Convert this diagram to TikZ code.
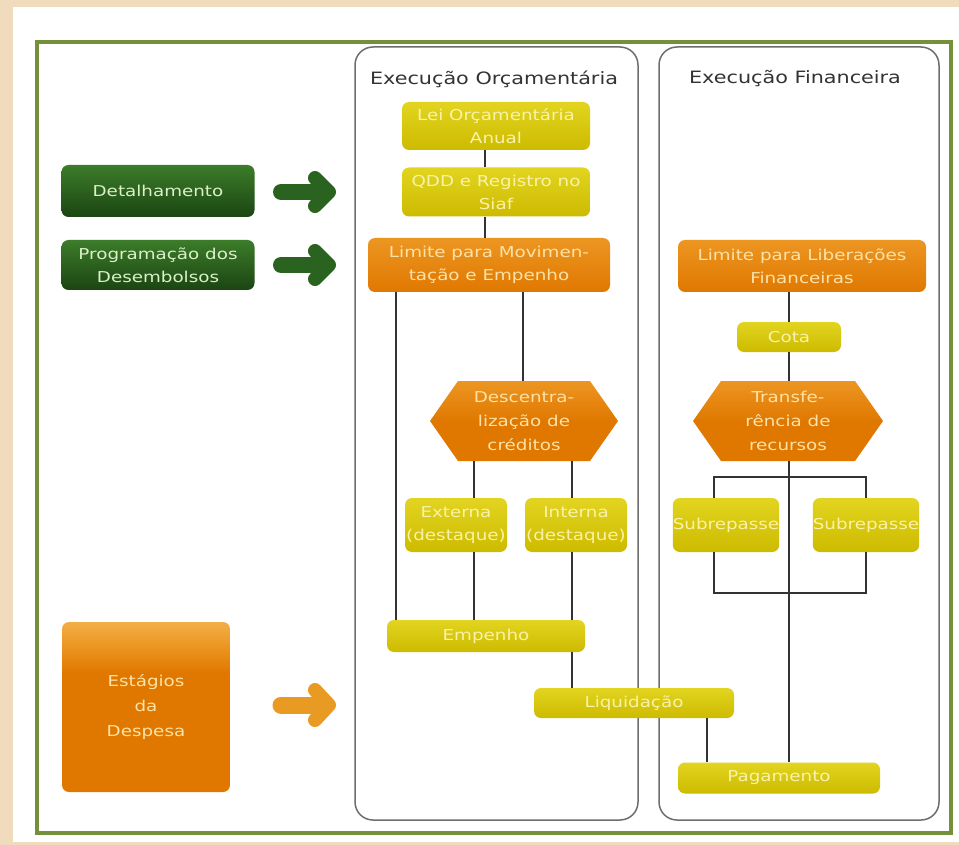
\documentclass[tikz,border=0pt]{standalone}
\usepackage{fontspec}
\setmainfont{DejaVu Sans}[FakeStretch=1.22]
\usetikzlibrary{shapes.symbols}
\definecolor{bgbeige}{HTML}{F0DCBC}
\definecolor{framec}{HTML}{74903A}
\definecolor{panelgray}{HTML}{6E6E6E}
\definecolor{ylw}{HTML}{CDBB00}
\definecolor{ylwtop}{HTML}{E2D420}
\definecolor{ylwtxt}{HTML}{FAF2A8}
\definecolor{org}{HTML}{E07800}
\definecolor{orgtop}{HTML}{EC9622}
\definecolor{orglight}{HTML}{F2AE48}
\definecolor{orgtxt}{HTML}{FCE2A8}
\definecolor{grn}{HTML}{1B4512}
\definecolor{grntop}{HTML}{3C7C2A}
\definecolor{grntxt}{HTML}{D9F0C8}
\definecolor{grnarrow}{HTML}{2A6320}
\definecolor{orgarrow}{HTML}{E99A22}
\definecolor{linec}{HTML}{333333}
\definecolor{titlec}{HTML}{333333}
\pgfdeclareverticalshading{estshade}{100bp}{color(0bp)=(org); color(25bp)=(org); color(60bp)=(org); color(68bp)=(orgtop); color(75bp)=(orglight); color(100bp)=(orglight)}
\begin{document}
\begin{tikzpicture}[x=1pt,y=-1pt,
  box/.style={rounded corners=7pt, inner sep=0pt, align=center, font=\fontsize{15}{23}\selectfont},
  ybox/.style={box, top color=ylwtop, bottom color=ylw, text=ylwtxt},
  obox/.style={box, top color=orgtop, bottom color=org, text=orgtxt},
  gbox/.style={box, top color=grntop, bottom color=grn, text=grntxt},
  hexa/.style={signal, signal to=east and west, signal pointer angle=110, top color=orgtop, bottom color=org, middle color=org, text=orgtxt, inner sep=0pt, align=center, font=\fontsize{15}{24}\selectfont},
  conn/.style={draw=linec, line width=2pt},
  panel/.style={draw=panelgray, line width=1.5pt, rounded corners=18pt, fill=white},
  ptitle/.style={text=titlec, font=\fontsize{17}{20}\selectfont},
  garrow/.style={draw=grnarrow, line cap=round, line join=round},
  oarrow/.style={draw=orgarrow, line cap=round, line join=round}
]
\useasboundingbox (0,0) rectangle (959,845);
\fill[bgbeige] (0,0) rectangle (959,845);
\fill[white] (13,7) rectangle (959,842);
\draw[framec, line width=4pt] (37,42) rectangle (951,833);

% panels
\draw[panel] (355,47) rectangle (638,820);
\draw[panel] (659,47) rectangle (939,820);
\node[ptitle] (t1) at (494,79) {Execução Orçamentária};
\node[ptitle] (t2) at (795,79) {Execução Financeira};

% column coordinates
\coordinate (xa) at (485,0);
\coordinate (xb) at (396,0);
\coordinate (xc) at (523,0);
\coordinate (xd) at (474,0);
\coordinate (xe) at (572,0);
\coordinate (xf) at (789,0);
\coordinate (xg) at (707,0);
\coordinate (xl) at (714,0);
\coordinate (xr) at (866,0);
\coordinate (ytop) at (0,477);
\coordinate (ybot) at (0,593);

% boxes
\node[ybox, minimum width=188pt, minimum height=48pt] (lei) at (496,126) {Lei Orçamentária\\Anual};
\node[ybox, minimum width=188pt, minimum height=49pt] (qdd) at (496,192) {QDD e Registro no\\Siaf};
\node[obox, minimum width=242pt, minimum height=54pt] (limmov) at (489,265) {Limite para Movimen-\\tação e Empenho};
\node[obox, minimum width=248pt, minimum height=52pt] (limlib) at (802,266) {Limite para Liberações\\Financeiras};
\node[ybox, minimum width=104pt, minimum height=30pt] (cota) at (789,337) {Cota};
\node[hexa, minimum width=188pt, minimum height=80pt] (desc) at (524,421) {Descentra-\\lização de\\créditos};
\node[hexa, minimum width=190pt, minimum height=80pt] (trans) at (788,421) {Transfe-\\rência de\\recursos};
\node[ybox, minimum width=102pt, minimum height=54pt] (ext) at (456,525) {Externa\\(destaque)};
\node[ybox, minimum width=102pt, minimum height=54pt] (int) at (576,525) {Interna\\(destaque)};
\node[ybox, minimum width=94pt, minimum height=54pt] (sub1) at (726,525) {Subrepasse};
\node[ybox, minimum width=102pt, minimum height=54pt] (sub2) at (866,525) {Subrepasse};
\node[ybox, minimum width=198pt, minimum height=32pt] (emp) at (486,636) {Empenho};
\node[ybox, minimum width=200pt, minimum height=30pt] (liq) at (634,703) {Liquidação};
\node[ybox, minimum width=202pt, minimum height=31pt] (pag) at (779,778) {Pagamento};
\node[gbox, minimum width=193pt, minimum height=52pt] (det) at (158,191) {Detalhamento};
\node[gbox, minimum width=193pt, minimum height=50pt] (prog) at (158,265) {Programação dos\\Desembolsos};
\node[box, shading=estshade, text=orgtxt, minimum width=168pt, minimum height=170pt, font=\fontsize{15}{25}\selectfont] (est) at (146,707) {Estágios\\da\\Despesa};

% connectors
\draw[conn] (lei.south -| xa) -- (qdd.north -| xa);
\draw[conn] (qdd.south -| xa) -- (limmov.north -| xa);
\draw[conn] (limmov.south -| xb) -- (emp.north -| xb);
\draw[conn] (limmov.south -| xc) -- (desc.north -| xc);
\draw[conn] (desc.south -| xd) -- (ext.north -| xd);
\draw[conn] (ext.south -| xd) -- (emp.north -| xd);
\draw[conn] (desc.south -| xe) -- (int.north -| xe);
\draw[conn] (int.south -| xe) -- (emp.north -| xe);
\draw[conn] (emp.south -| xe) -- (liq.north -| xe);
\draw[conn] (limlib.south -| xf) -- (cota.north -| xf);
\draw[conn] (cota.south -| xf) -- (trans.north -| xf);
\draw[conn] (trans.south -| xf) -- (pag.north -| xf);
\draw[conn] (sub1.north -| xl) -- (xl |- ytop) -- (xr |- ytop) -- (sub2.north -| xr);
\draw[conn] (sub1.south -| xl) -- (xl |- ybot) -- (xr |- ybot) -- (sub2.south -| xr);
\draw[conn] (liq.south -| xg) -- (pag.north -| xg);

% arrows
\draw[garrow, line width=16pt] (281,192) -- (323,192);
\draw[garrow, line width=14pt] (315,178) -- (329,192) -- (315,206);
\draw[garrow, line width=16pt] (281,265) -- (323,265);
\draw[garrow, line width=14pt] (315,251) -- (329,265) -- (315,279);
\draw[oarrow, line width=17pt] (281,705) -- (323,705);
\draw[oarrow, line width=14pt] (315,690) -- (329,705) -- (315,720);
\end{tikzpicture}
\end{document}
